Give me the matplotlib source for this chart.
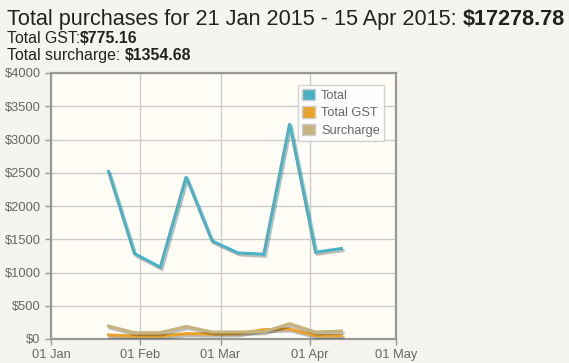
import datetime
import matplotlib
matplotlib.use("Agg")
import matplotlib.pyplot as plt
import matplotlib.dates as mdates
import matplotlib.patheffects as pe
from matplotlib.patches import Patch

# data (9 day buckets)
dates = [datetime.date(2015, 1, 21) + datetime.timedelta(days=9 * i) for i in range(10)]
total = [2520, 1285, 1080, 2440, 1475, 1295, 1275, 3240, 1305, 1360]
total_gst = [60, 45, 45, 80, 75, 80, 140, 150, 50, 50]
surcharge = [195, 95, 95, 190, 105, 105, 110, 230, 105, 120]

series_names = ['Total', 'Total GST', 'Surcharge']
colors = ['#4bb2c5', '#EAA228', '#c5b47f']

y_ticks = [0, 500, 1000, 1500, 2000, 2500, 3000, 3500, 4000]
x_ticks = [datetime.date(2015, m, 1) for m in (1, 2, 3, 4, 5)]

plt.rcParams['font.family'] = ['Liberation Sans', 'DejaVu Sans']

fig = plt.figure(figsize=(5.69, 3.63), dpi=100, facecolor='#f5f4ee')
ax = fig.add_axes([51 / 569, 24 / 363, 345 / 569, 266 / 363])
ax.set_facecolor('#fffdf6')

shadow = [pe.SimpleLineShadow(offset=(1.2, -1.5), shadow_color='black', alpha=0.25),
          pe.Normal()]
for vals, name, c in zip([total, total_gst, surcharge], series_names, colors):
    ax.plot(dates, vals, color=c, lw=2.2, label=name, path_effects=shadow,
            solid_joinstyle='miter', zorder=3)

ax.set_xlim(x_ticks[0], x_ticks[-1])
ax.set_ylim(0, 4000)
ax.set_yticks(y_ticks)
ax.set_yticklabels(['$%d' % v for v in y_ticks])
ax.set_xticks(x_ticks)
ax.xaxis.set_major_formatter(mdates.DateFormatter('%d %b'))
ax.grid(True, color='#cccccc', lw=1)
ax.set_axisbelow(True)
for s in ax.spines.values():
    s.set_color('#999999')
    s.set_linewidth(1.6)
ax.tick_params(colors='#999999', labelcolor='#666666', labelsize=9.3, length=4, width=1)

handles = [Patch(facecolor=c, edgecolor='#cccccc', lw=1) for c in colors]
leg = ax.legend(handles, series_names, loc='upper right', bbox_to_anchor=(0.965, 0.955),
                fontsize=9.2, frameon=True, fancybox=False, handlelength=1.0, handleheight=1.0,
                handletextpad=0.5, borderpad=0.3, labelspacing=0.35, borderaxespad=0)
leg.get_frame().set_edgecolor('#cccccc')
leg.get_frame().set_facecolor('#ffffff')
leg.get_frame().set_alpha(0.85)
for t in leg.get_texts():
    t.set_color('#666666')

# header text, plain part followed by bold value
renderer = fig.canvas.get_renderer()
def header(y, plain, bold, size):
    t = fig.text(7 / 569, y, plain, fontsize=size, color='#222222', va='baseline')
    bb = t.get_window_extent(renderer=renderer)
    fig.text(bb.x1 / fig.bbox.width, y, bold, fontsize=size, color='#222222',
             fontweight='bold', va='baseline')

header(1 - 25 / 363, 'Total purchases for 21 Jan 2015 - 15 Apr 2015: ', '$17278.78', 15.6)
header(1 - 43 / 363, 'Total GST:', '$775.16', 11.4)
header(1 - 60 / 363, 'Total surcharge: ', '$1354.68', 11.4)

fig.savefig('out.png', dpi=100, facecolor=fig.get_facecolor())
